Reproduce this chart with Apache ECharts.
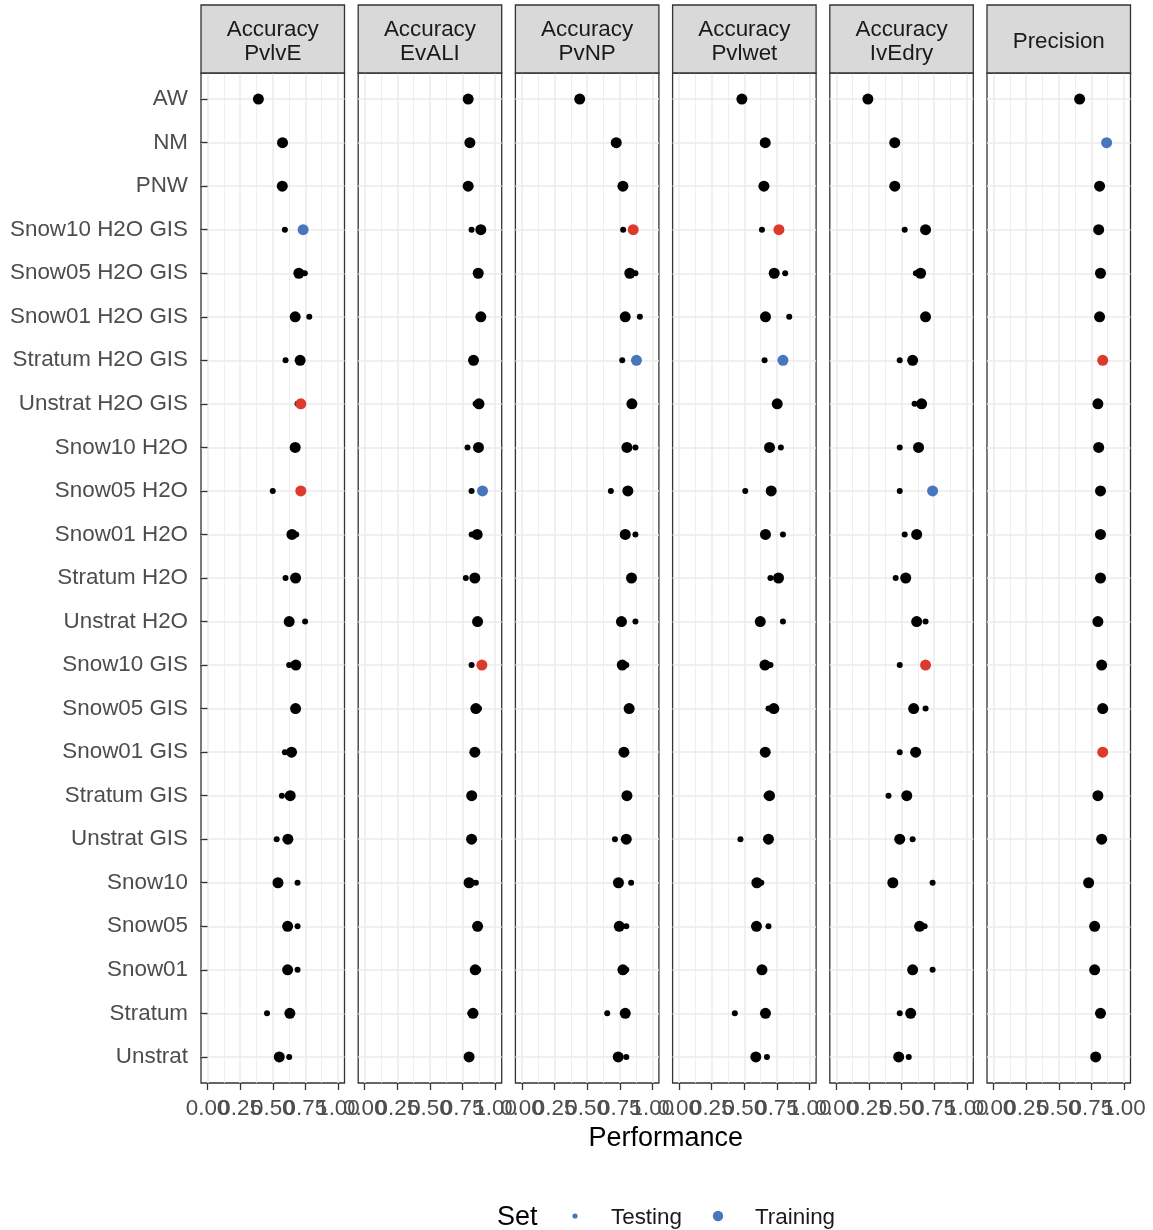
<!DOCTYPE html>
<html><head><meta charset="utf-8">
<script src="https://cdn.jsdelivr.net/npm/echarts@6/dist/echarts.min.js"></script>
<style>html,body{margin:0;padding:0;background:#fff}#c{width:1153px;height:1230px}</style>
</head><body><div id="c"></div><script>
const categories = ['AW','NM','PNW','Snow10 H2O GIS','Snow05 H2O GIS','Snow01 H2O GIS','Stratum H2O GIS','Unstrat H2O GIS','Snow10 H2O','Snow05 H2O','Snow01 H2O','Stratum H2O','Unstrat H2O','Snow10 GIS','Snow05 GIS','Snow01 GIS','Stratum GIS','Unstrat GIS','Snow10','Snow05','Snow01','Stratum','Unstrat'];
const panelTitles = ['Accuracy\nPvlvE','Accuracy\nEvALI','Accuracy\nPvNP','Accuracy\nPvlwet','Accuracy\nIvEdry','Precision'];
const xTicks = [0, 0.25, 0.5, 0.75, 1];
const xMinorTicks = [0.125, 0.375, 0.625, 0.875];
const xTickLabels = ['0.00','0.25','0.50','0.75','1.00'];
const xTitle = 'Performance';
const legendTitle = 'Set';
const legendItems = ['Testing', 'Training'];

const trainPvlvE = [0.39,0.575,0.573,0.733,0.70,0.672,0.71,0.715,0.672,0.715,0.647,0.675,0.626,0.677,0.675,0.644,0.634,0.616,0.54,0.614,0.614,0.631,0.55];
const testPvlvE  = [null,null,null,0.593,0.746,0.78,0.598,0.69,0.67,0.50,0.68,0.598,0.748,0.626,0.675,0.593,0.57,0.53,0.69,0.69,0.69,0.456,0.626];
const trainEvALI = [0.793,0.806,0.793,0.89,0.87,0.89,0.834,0.876,0.872,0.903,0.862,0.844,0.865,0.898,0.852,0.844,0.82,0.819,0.80,0.865,0.847,0.83,0.80];
const testEvALI  = [null,null,null,0.819,0.87,0.89,0.834,0.85,0.788,0.819,0.82,0.775,0.865,0.819,0.876,0.83,0.82,0.819,0.852,0.865,0.87,0.81,0.80];
const trainPvNP  = [0.443,0.723,0.774,0.853,0.827,0.792,0.878,0.843,0.805,0.812,0.792,0.84,0.763,0.769,0.822,0.782,0.805,0.80,0.74,0.746,0.774,0.792,0.738];
const testPvNP   = [null,null,null,0.776,0.87,0.904,0.769,0.84,0.87,0.682,0.87,0.84,0.87,0.80,0.822,0.782,0.79,0.713,0.837,0.80,0.80,0.654,0.80];
const trainPvlwet = [0.481,0.66,0.65,0.765,0.729,0.662,0.796,0.752,0.693,0.706,0.662,0.762,0.622,0.658,0.726,0.66,0.693,0.685,0.596,0.593,0.635,0.662,0.588];
const testPvlwet  = [null,null,null,0.635,0.813,0.844,0.655,0.752,0.78,0.507,0.796,0.70,0.796,0.70,0.685,0.66,0.67,0.47,0.63,0.685,0.635,0.427,0.673];
const trainIvEdry = [0.242,0.448,0.448,0.684,0.646,0.684,0.585,0.654,0.63,0.738,0.616,0.532,0.616,0.684,0.593,0.608,0.54,0.486,0.433,0.638,0.585,0.57,0.478];
const testIvEdry  = [null,null,null,0.524,0.61,0.684,0.486,0.60,0.486,0.486,0.524,0.455,0.684,0.486,0.684,0.486,0.40,0.585,0.738,0.677,0.738,0.486,0.555];
const trainPrecision = [0.66,0.867,0.813,0.806,0.82,0.813,0.837,0.80,0.806,0.82,0.82,0.82,0.80,0.829,0.837,0.837,0.80,0.829,0.729,0.775,0.775,0.82,0.783];
const testPrecision  = [null,null,null,null,null,null,null,null,null,null,null,null,null,null,null,null,null,null,null,null,null,null,null];

const redPvlvE = ['Unstrat H2O GIS','Snow05 H2O'];   const bluePvlvE = ['Snow10 H2O GIS'];
const redEvALI = ['Snow10 GIS'];                      const blueEvALI = ['Snow05 H2O'];
const redPvNP = ['Snow10 H2O GIS'];                   const bluePvNP = ['Stratum H2O GIS'];
const redPvlwet = ['Snow10 H2O GIS'];                 const bluePvlwet = ['Stratum H2O GIS'];
const redIvEdry = ['Snow10 GIS'];                     const blueIvEdry = ['Snow05 H2O'];
const redPrecision = ['Stratum H2O GIS','Snow01 GIS']; const bluePrecision = ['NM'];

const trainSets = [trainPvlvE, trainEvALI, trainPvNP, trainPvlwet, trainIvEdry, trainPrecision];
const testSets = [testPvlvE, testEvALI, testPvNP, testPvlwet, testIvEdry, testPrecision];
const redSets = [redPvlvE, redEvALI, redPvNP, redPvlwet, redIvEdry, redPrecision];
const blueSets = [bluePvlvE, blueEvALI, bluePvNP, bluePvlwet, blueIvEdry, bluePrecision];

const RED = '#DC3A2D', BLUE = '#4776BD';
const FONT = '"Liberation Sans", Arial, sans-serif';
const FS = 22.4;
const panelLeft = 201, panelStep = 157.2, panelW = 143.5, panelTop = 73, panelH = 1010;
const stripTop = 5, stripH = 68;

const grids = [], xAxes = [], yAxes = [], series = [], graphics = [];
const yIdx = categories.map((c, j) => j);
const labelIdxA = [0, 2, 4], labelIdxB = [1, 3];
const fmt = v => { const k = xTicks.indexOf(v); return k >= 0 ? xTickLabels[k] : ''; };

for (let i = 0; i < 6; i++) {
  const left = panelLeft + panelStep * i;
  grids.push({ left: left, top: panelTop, width: panelW, height: panelH, show: true,
    borderColor: '#333333', borderWidth: 1.3, backgroundColor: '#ffffff', containLabel: false });
  const base = 3 * i;
  xAxes.push({ type: 'value', gridIndex: i, min: -0.05, max: 1.05,
    axisLine: { show: false }, axisLabel: { show: false },
    axisTick: { show: true, length: 0, customValues: xMinorTicks, lineStyle: { color: 'rgba(0,0,0,0)', width: 0 } },
    splitLine: { show: true, lineStyle: { color: '#EBEBEB', width: 0.8 } } });
  xAxes.push({ type: 'value', gridIndex: i, min: -0.05, max: 1.05, position: 'bottom',
    axisLine: { show: false },
    axisTick: { show: true, length: 7, customValues: xTicks, lineStyle: { color: '#333333', width: 1.3 } },
    axisLabel: { show: true, customValues: labelIdxA.map(k => xTicks[k]), margin: 15, fontSize: FS, color: '#4D4D4D', fontFamily: FONT,
      formatter: fmt, hideOverlap: false, showMinLabel: true, showMaxLabel: true },
    splitLine: { show: true, lineStyle: { color: '#EBEBEB', width: 1.5 } } });
  xAxes.push({ type: 'value', gridIndex: i, min: -0.05, max: 1.05, position: 'bottom',
    axisLine: { show: false }, axisTick: { show: false, customValues: labelIdxB.map(k => xTicks[k]) },
    axisLabel: { show: true, customValues: labelIdxB.map(k => xTicks[k]), margin: 15, fontSize: FS, color: '#4D4D4D', fontFamily: FONT,
      formatter: fmt, hideOverlap: false },
    splitLine: { show: false } });
  yAxes.push({ type: 'value', gridIndex: i, min: -0.6, max: 22.6, inverse: true,
    axisLine: { show: false },
    axisTick: { show: true, length: i === 0 ? 7 : 0, customValues: yIdx, lineStyle: { color: i === 0 ? '#333333' : 'rgba(0,0,0,0)', width: 1.3 } },
    axisLabel: { show: i === 0, customValues: yIdx, margin: 13, fontSize: FS, color: '#4D4D4D', fontFamily: FONT,
      formatter: v => categories[Math.round(v)] || '', hideOverlap: false },
    splitLine: { show: true, lineStyle: { color: '#EBEBEB', width: 1.5 } } });

  const testData = [];
  testSets[i].forEach((v, j) => { if (v !== null) testData.push([v, j]); });
  series.push({ type: 'scatter', name: 'Testing', xAxisIndex: base + 1, yAxisIndex: i,
    symbol: 'circle', symbolSize: 6, itemStyle: { color: '#000000', opacity: 1 }, z: 3,
    silent: true, data: testData });
  const trainData = trainSets[i].map((v, j) => {
    const c = categories[j];
    const col = redSets[i].includes(c) ? RED : (blueSets[i].includes(c) ? BLUE : '#000000');
    return { value: [v, j], itemStyle: { color: col } };
  });
  series.push({ type: 'scatter', name: 'Training', xAxisIndex: base + 1, yAxisIndex: i,
    symbol: 'circle', symbolSize: 11, itemStyle: { opacity: 1 }, z: 4,
    silent: true, data: trainData });

  graphics.push({ type: 'rect', shape: { x: left, y: stripTop, width: panelW, height: stripH },
    style: { fill: '#D9D9D9', stroke: '#333333', lineWidth: 1.3 }, z: 10 });
  graphics.push({ type: 'text', x: left + panelW / 2, y: stripTop + stripH / 2 + 3,
    style: { text: panelTitles[i], font: FS + 'px ' + FONT, fill: '#1A1A1A', align: 'center', verticalAlign: 'middle', lineHeight: 24 }, z: 11 });
}

const centerX = panelLeft + (panelStep * 5 + panelW) / 2;
graphics.push({ type: 'text', x: centerX, y: 1139, style: { text: xTitle, font: '27px ' + FONT, fill: '#000000', align: 'center', verticalAlign: 'middle' } });
graphics.push({ type: 'text', x: 497, y: 1218, style: { text: legendTitle, font: '27px ' + FONT, fill: '#000000', align: 'left', verticalAlign: 'middle' } });
graphics.push({ type: 'circle', shape: { cx: 575, cy: 1216, r: 2.6 }, style: { fill: BLUE } });
graphics.push({ type: 'text', x: 611, y: 1218, style: { text: legendItems[0], font: FS + 'px ' + FONT, fill: '#1A1A1A', align: 'left', verticalAlign: 'middle' } });
graphics.push({ type: 'circle', shape: { cx: 718, cy: 1216, r: 5.2 }, style: { fill: BLUE } });
graphics.push({ type: 'text', x: 755, y: 1218, style: { text: legendItems[1], font: FS + 'px ' + FONT, fill: '#1A1A1A', align: 'left', verticalAlign: 'middle' } });

const chart = echarts.init(document.getElementById('c'), null, { renderer: 'canvas' });
chart.setOption({
  animation: false,
  backgroundColor: '#ffffff',
  textStyle: { fontFamily: FONT },
  grid: grids, xAxis: xAxes, yAxis: yAxes, series: series,
  graphic: graphics
});
</script></body></html>
